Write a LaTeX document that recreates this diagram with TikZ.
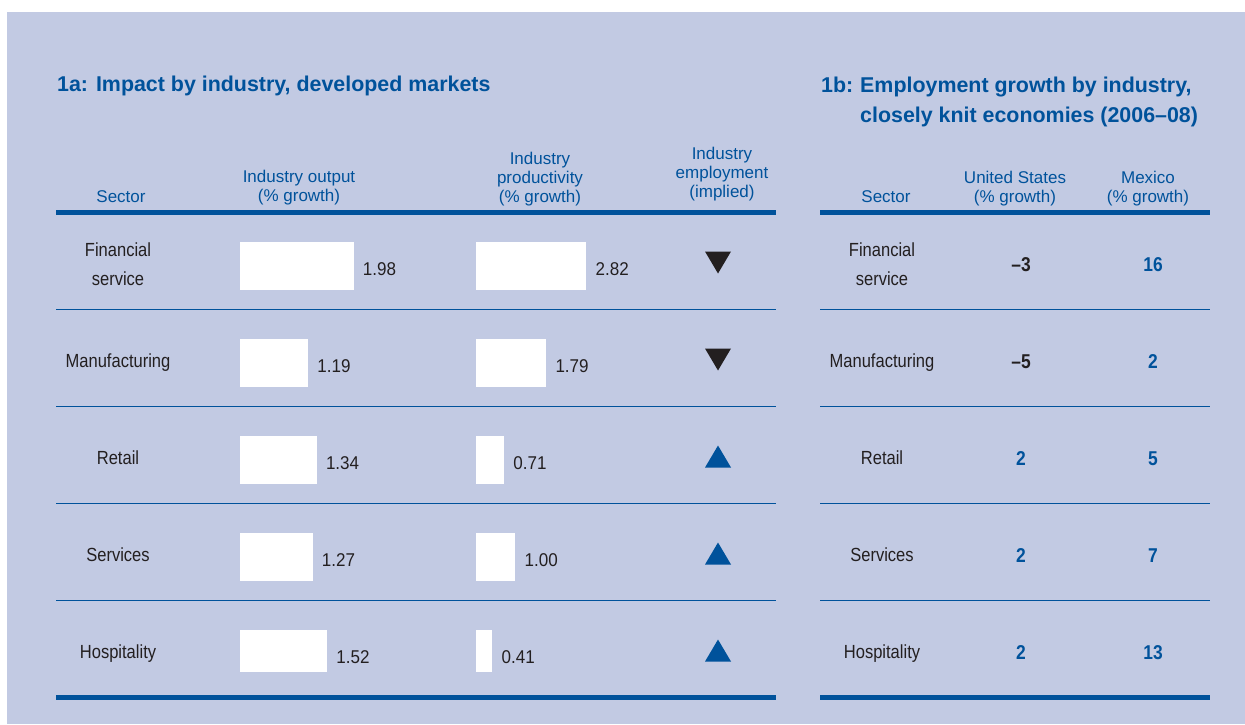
\documentclass[tikz,border=0pt]{standalone}
\usepackage{fontspec}
\setmainfont{Liberation Sans}
\newfontfamily\condfont[FakeStretch=0.87]{Liberation Sans}
\newfontfamily\valfont[FakeStretch=0.92]{Liberation Sans}
\definecolor{panel}{HTML}{C2CAE3}
\definecolor{hblue}{HTML}{00529B}
\definecolor{ink}{HTML}{231F20}
\begin{document}
\begin{tikzpicture}[x=1pt,y=-1pt,
  hdr/.style={font=\fontsize{17}{18.6}\selectfont, text=hblue, align=center, anchor=base, inner sep=0pt},
  ttl/.style={font=\fontsize{21.4}{30}\selectfont\bfseries, text=hblue, anchor=base west, inner sep=0pt, align=left},
  lbl/.style={font=\condfont\fontsize{19}{29}\selectfont, text=ink, align=center, anchor=base, inner sep=0pt},
  val/.style={font=\valfont\fontsize{18.5}{20}\selectfont, text=ink, anchor=base west, inner sep=0pt},
  num/.style={font=\condfont\fontsize{20}{22}\selectfont\bfseries, anchor=base, inner sep=0pt},
  thickrule/.style={line width=5pt, draw=hblue},
  thinrule/.style={line width=1.4pt, draw=hblue},
  barbox/.style={fill=white}]
\useasboundingbox (0,0) rectangle (1245,724);
\fill[white] (0,0) rectangle (1245,724);
\fill[panel] (7,12) rectangle (1245,724);

% titles
\node[ttl] (t1a) at (57,91) {1a: Impact by industry, developed markets};
\node[ttl] (t1bn) at (821,92) {1b:};
\node[ttl] (t1b) at (860,122) {Employment growth by industry,\\closely knit economies (2006–08)};

% headers left (anchor base = last line)
\node[hdr] (hsec) at (121,202) {Sector};
\node[hdr] (hout) at (299,201) {Industry output\\(\% growth)};
\node[hdr] (hprod) at (540,202) {Industry\\productivity\\(\% growth)};
\node[hdr] (hemp) at (722,197) {Industry\\employment\\(implied)};
% headers right
\node[hdr] (hsec2) at (886,202) {Sector};
\node[hdr] (hus) at (1015,202) {United States\\(\% growth)};
\node[hdr] (hmx) at (1148,202) {Mexico\\(\% growth)};

% rules
\foreach \a/\b in {56/180,180/420,420/660,660/776,820/945,945/1077,1077/1210}{
  \draw[thickrule] ({\a+0.4},212.5) -- ({\b-0.4},212.5);
  \draw[thickrule] ({\a+0.4},697.5) -- ({\b-0.4},697.5);
  \foreach \k in {1,2,3,4}{
    \draw[thinrule] ({\a+0.4},{212.5+97*\k}) -- ({\b-0.4},{212.5+97*\k});
  }
}

% sector labels
\node[lbl] (s1) at (118,285) {Financial\\service};
\node[lbl] (s2) at (118,367) {Manufacturing};
\node[lbl] (s3) at (118,464) {Retail};
\node[lbl] (s4) at (118,561) {Services};
\node[lbl] (s5) at (118,658) {Hospitality};
\node[lbl] (r1) at (882,285) {Financial\\service};
\node[lbl] (r2) at (882,367) {Manufacturing};
\node[lbl] (r3) at (882,464) {Retail};
\node[lbl] (r4) at (882,561) {Services};
\node[lbl] (r5) at (882,658) {Hospitality};

% bars, values, triangles
\foreach \k/\o/\p/\by/\ay/\tc in {0/1.98/2.82/39/61/ink,1/1.19/1.79/39/61/ink,2/1.34/0.71/61/39/hblue,3/1.27/1.00/61/39/hblue,4/1.52/0.41/61/39/hblue}{
  \pgfmathsetmacro\t{212.5+97*\k}
  \pgfmathsetmacro\bh{\k==4 ? 41.5 : 48}
  \fill[barbox] (239.5,{\t+29.5}) rectangle ++({57.7*\o},\bh);
  \fill[barbox] (476,{\t+29.5}) rectangle ++({39*\p},\bh);
  \node[val] (o\k) at ({239.5+57.7*\o+9},{\t+62.5}) {\o};
  \node[val] (p\k) at ({476+39*\p+9.5},{\t+62.5}) {\p};
  \fill[\tc] (705,{\t+\by}) -- (731,{\t+\by}) -- (718,{\t+\ay}) -- cycle;
}

% right table values
\foreach \k/\us/\uc/\mx in {0/–3/ink/16,1/–5/ink/2,2/2/hblue/5,3/2/hblue/7,4/2/hblue/13}{
  \pgfmathsetmacro\t{212.5+97*\k}
  \node[num, text=\uc] (u\k) at (1021,{\t+58.5}) {\us};
  \node[num, text=hblue] (m\k) at (1153,{\t+58.5}) {\mx};
}
\end{tikzpicture}
\end{document}
